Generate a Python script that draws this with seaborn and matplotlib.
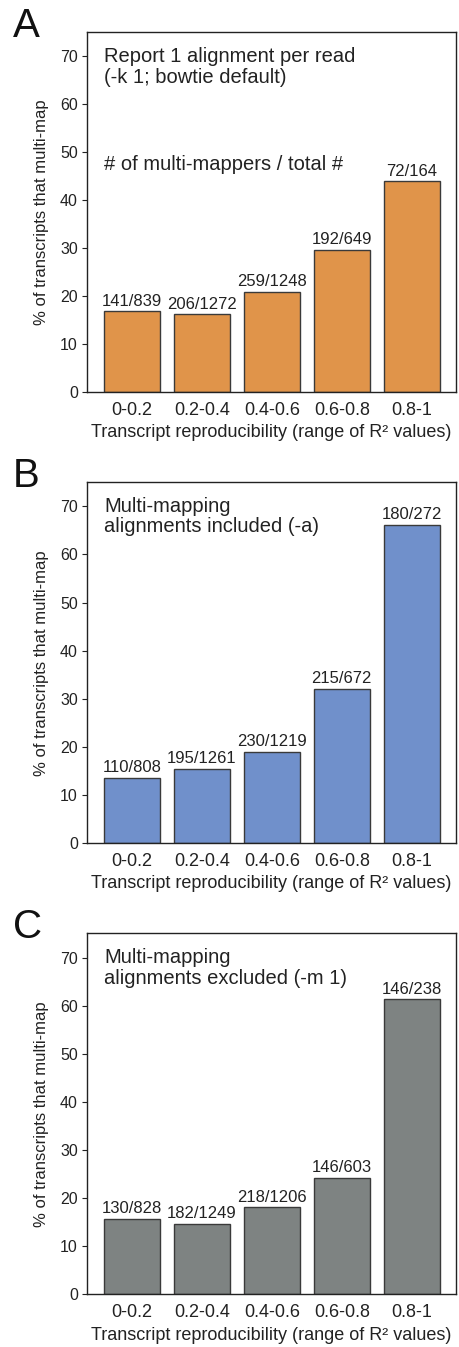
import matplotlib
matplotlib.use("Agg")
import matplotlib.pyplot as plt
import seaborn as sns
import pandas as pd

sns.set_theme(style="ticks")
plt.rcParams['font.family'] = ['Liberation Sans', 'DejaVu Sans']

categories = ["0-0.2", "0.2-0.4", "0.4-0.6", "0.6-0.8", "0.8-1"]

values_a = [16.8, 16.2, 20.8, 29.6, 43.9]
labels_a = ["141/839", "206/1272", "259/1248", "192/649", "72/164"]

values_b = [13.6, 15.5, 18.9, 32.0, 66.2]
labels_b = ["110/808", "195/1261", "230/1219", "215/672", "180/272"]

values_c = [15.7, 14.6, 18.1, 24.2, 61.3]
labels_c = ["130/828", "182/1249", "218/1206", "146/603", "146/238"]

panel_letters = ["A", "B", "C"]
notes = ["Report 1 alignment per read\n(-k 1; bowtie default)",
         "Multi-mapping\nalignments included (-a)",
         "Multi-mapping\nalignments excluded (-m 1)"]
colors = ["#E0944A", "#7090CB", "#7E8382"]
yticks = [0, 10, 20, 30, 40, 50, 60, 70]

fig = plt.figure(figsize=(4.6, 13.47), dpi=100)

axes_rects = [
    (0.189, 0.709, 0.802, 0.267),
    (0.189, 0.374, 0.802, 0.268),
    (0.189, 0.039, 0.802, 0.268),
]
letter_y = [0.9725, 0.6385, 0.3036]

panels = [(values_a, labels_a), (values_b, labels_b), (values_c, labels_c)]
ink = "#222222"

for i, ((vals, labs), rect) in enumerate(zip(panels, axes_rects)):
    ax = fig.add_axes(rect)
    df = pd.DataFrame({"cat": categories, "val": vals})
    sns.barplot(data=df, x="cat", y="val", color=colors[i], saturation=1,
                width=0.8, edgecolor="#3a3a3a", linewidth=1.0, ax=ax)
    ax.bar_label(ax.containers[0], labels=labs, padding=2, fontsize=12,
                 color=ink)
    ax.set_xlim(-0.64, 4.63)
    ax.set_ylim(0, 75)
    ax.set_yticks(yticks)
    ax.tick_params(axis='y', direction='out', length=3.5, width=0.8,
                   labelsize=11.5, pad=3, colors=ink)
    ax.tick_params(axis='x', length=0, labelsize=13, pad=7, colors=ink)
    for s in ax.spines.values():
        s.set_linewidth(1.0)
        s.set_color(ink)
    ax.set_xlabel("Transcript reproducibility (range of R\u00b2 values)",
                  fontsize=13, labelpad=4, color=ink)
    ax.set_ylabel("% of transcripts that multi-map", fontsize=12,
                  labelpad=8, color=ink)
    ax.text(0.046, 0.96, notes[i], transform=ax.transAxes, fontsize=14.5,
            va="top", ha="left", color=ink, linespacing=1.12)
    if i == 0:
        ax.text(0.046, 0.617, "# of multi-mappers / total #",
                transform=ax.transAxes, fontsize=14.5, va="baseline",
                ha="left", color=ink)
    fig.text(0.028, letter_y[i], panel_letters[i], fontsize=29,
             va="baseline", ha="left", color="#111111")

fig.savefig("out.png", dpi=100)
